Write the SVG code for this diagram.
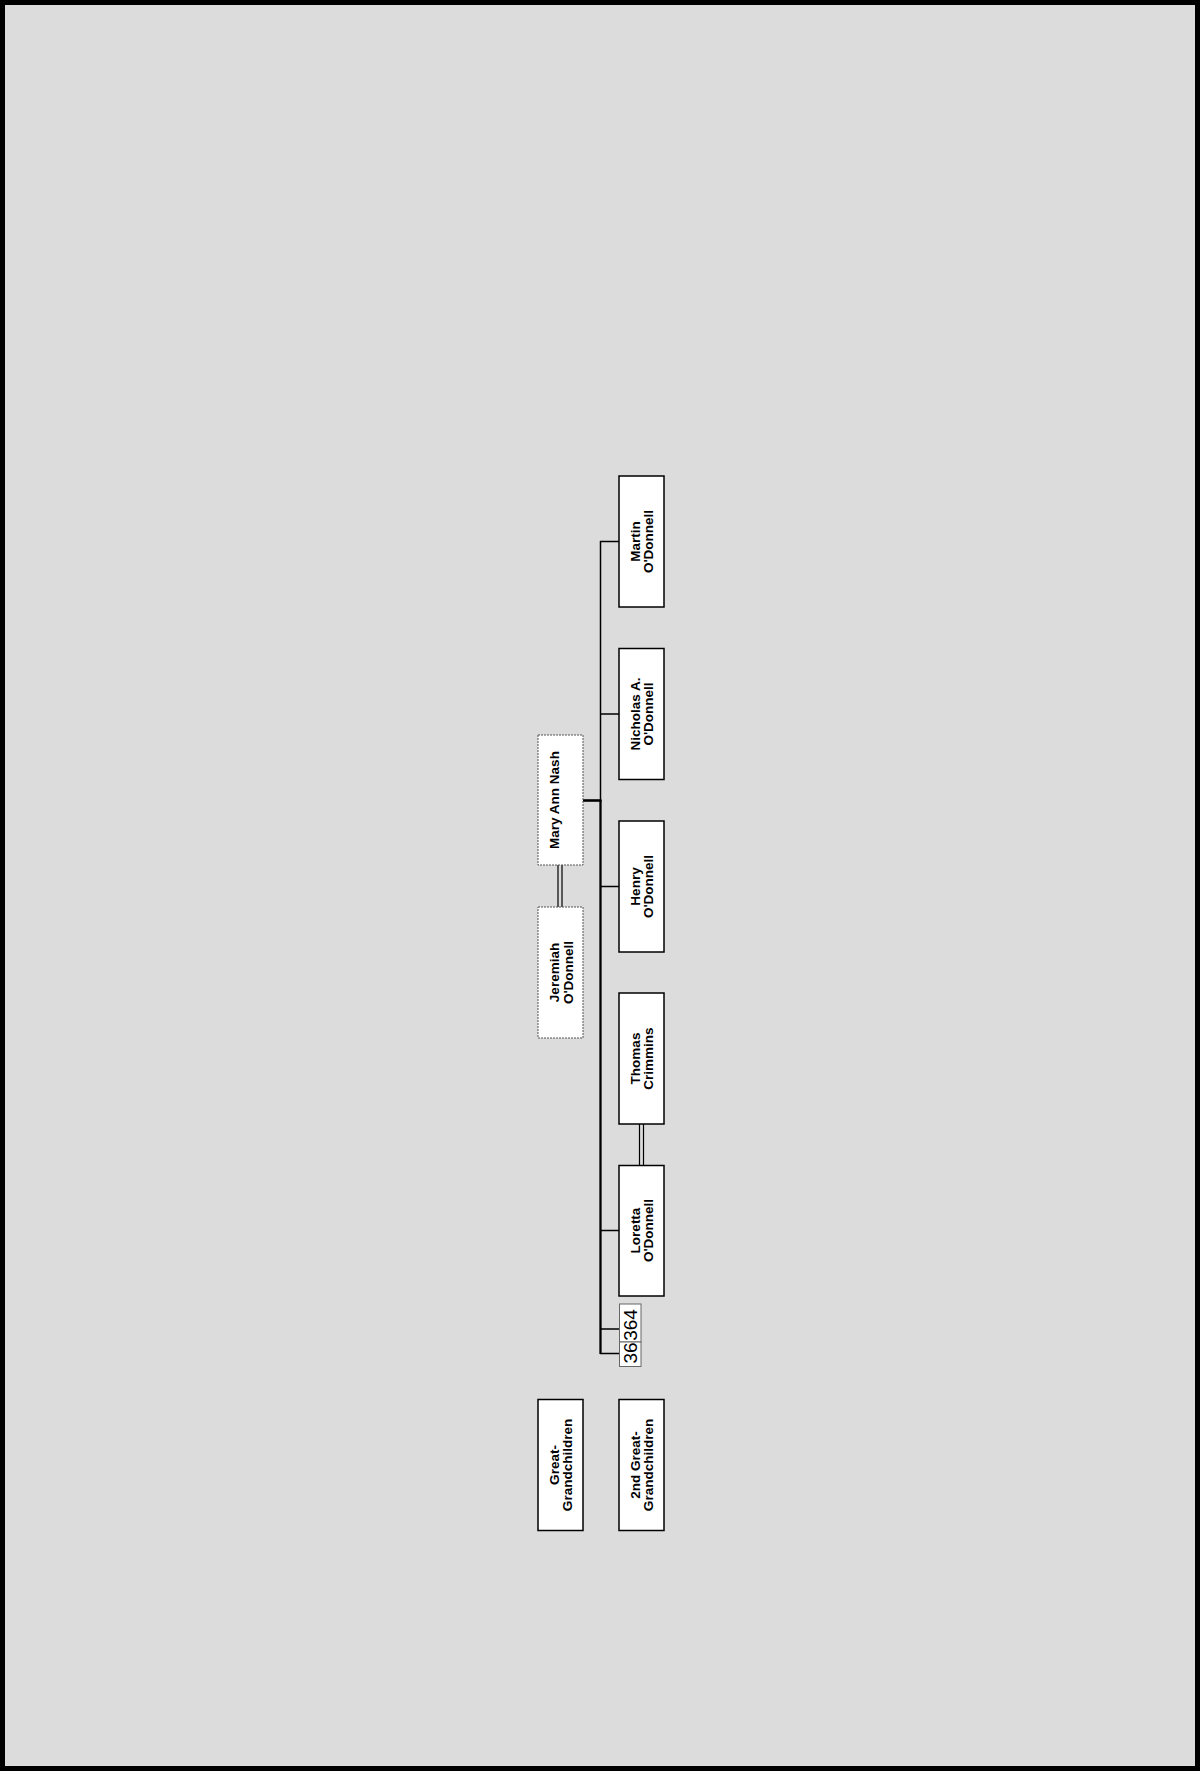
<svg xmlns="http://www.w3.org/2000/svg" width="1200" height="1771" viewBox="0 0 1200 1771">
<style>
.bg{fill:#dcdcdc;stroke:#000;stroke-width:5}
.box{fill:#fff;stroke:#000;stroke-width:1.5}
.dbox{fill:#fff;stroke:#555;stroke-width:1;stroke-dasharray:2 1}
.nbox{fill:#fff;stroke:#666;stroke-width:1}
.t{font-family:"Liberation Sans",Arial,sans-serif;font-weight:bold;font-size:13.5px;fill:#000;text-anchor:middle}
.n{font-family:"Liberation Sans",Arial,sans-serif;font-size:19px;fill:#000;text-anchor:middle}
.c{fill:none;stroke:#000;stroke-width:1.5}
.m{fill:none;stroke:#000;stroke-width:1.2}
</style>
<rect class="bg" x="2.5" y="2.5" width="1195" height="1766"/>
<g id="connectors">
<line class="c" x1="600.5" y1="541" x2="600.5" y2="800"/>
<line class="c" x1="600.5" y1="800" x2="600.5" y2="1354" style="stroke-width:2.3"/>
<line class="c" x1="583" y1="800.5" x2="601.5" y2="800.5" style="stroke-width:2.6"/>
<line class="c" x1="600" y1="541.5" x2="619" y2="541.5"/>
<line class="c" x1="600" y1="714" x2="619" y2="714"/>
<line class="c" x1="600" y1="886.5" x2="619" y2="886.5"/>
<line class="c" x1="600" y1="1230.5" x2="619" y2="1230.5"/>
<line class="c" x1="600" y1="1329" x2="619" y2="1329"/>
<line class="c" x1="600" y1="1353.5" x2="619" y2="1353.5"/>
<line class="m" x1="558" y1="865" x2="558" y2="907"/>
<line class="m" x1="562" y1="865" x2="562" y2="907"/>
<line class="m" x1="639.5" y1="1124" x2="639.5" y2="1165.5"/>
<line class="m" x1="643.5" y1="1124" x2="643.5" y2="1165.5"/>
</g>
<g id="mary">
<rect class="dbox" x="538" y="735" width="45" height="130"/>
<text class="t" transform="translate(560.5,800) rotate(-90)"><tspan x="0" y="-1.5">Mary Ann Nash</tspan></text>
</g>
<g id="jeremiah">
<rect class="dbox" x="538" y="907" width="45" height="131"/>
<text class="t" transform="translate(560.5,972.5) rotate(-90)"><tspan x="0" y="-1.5">Jeremiah</tspan><tspan x="0" y="12">O'Donnell</tspan></text>
</g>
<g id="martin">
<rect class="box" x="619" y="476" width="45" height="131"/>
<text class="t" transform="translate(641.5,541.5) rotate(-90)"><tspan x="0" y="-2">Martin</tspan><tspan x="0" y="11.5">O'Donnell</tspan></text>
</g>
<g id="nicholas">
<rect class="box" x="619" y="648.5" width="45" height="131"/>
<text class="t" transform="translate(641.5,714) rotate(-90)"><tspan x="0" y="-2">Nicholas A.</tspan><tspan x="0" y="11.5">O'Donnell</tspan></text>
</g>
<g id="henry">
<rect class="box" x="619" y="821" width="45" height="131"/>
<text class="t" transform="translate(641.5,886.5) rotate(-90)"><tspan x="0" y="-2">Henry</tspan><tspan x="0" y="11.5">O'Donnell</tspan></text>
</g>
<g id="thomas">
<rect class="box" x="619" y="993" width="45" height="131"/>
<text class="t" transform="translate(641.5,1058.5) rotate(-90)"><tspan x="0" y="-2">Thomas</tspan><tspan x="0" y="11.5">Crimmins</tspan></text>
</g>
<g id="loretta">
<rect class="box" x="619" y="1165.5" width="45" height="130.5"/>
<text class="t" transform="translate(641.5,1230.5) rotate(-90)"><tspan x="0" y="-2">Loretta</tspan><tspan x="0" y="11.5">O'Donnell</tspan></text>
</g>
<g id="n364">
<rect class="nbox" x="619.5" y="1304" width="21.5" height="38"/>
<text class="n" transform="translate(637,1325) rotate(-90)">364</text>
</g>
<g id="n36">
<rect class="nbox" x="619.5" y="1342" width="21.5" height="24.5"/>
<text class="n" transform="translate(637,1353) rotate(-90)">36</text>
</g>
<g id="great-grandchildren">
<rect class="box" x="538" y="1399.5" width="45" height="131"/>
<text class="t" transform="translate(560.5,1465) rotate(-90)"><tspan x="0" y="-2">Great-</tspan><tspan x="0" y="11.5">Grandchildren</tspan></text>
</g>
<g id="second-great-grandchildren">
<rect class="box" x="619" y="1399.5" width="45" height="131"/>
<text class="t" transform="translate(641.5,1465) rotate(-90)"><tspan x="0" y="-2">2nd Great-</tspan><tspan x="0" y="11.5">Grandchildren</tspan></text>
</g>
</svg>
